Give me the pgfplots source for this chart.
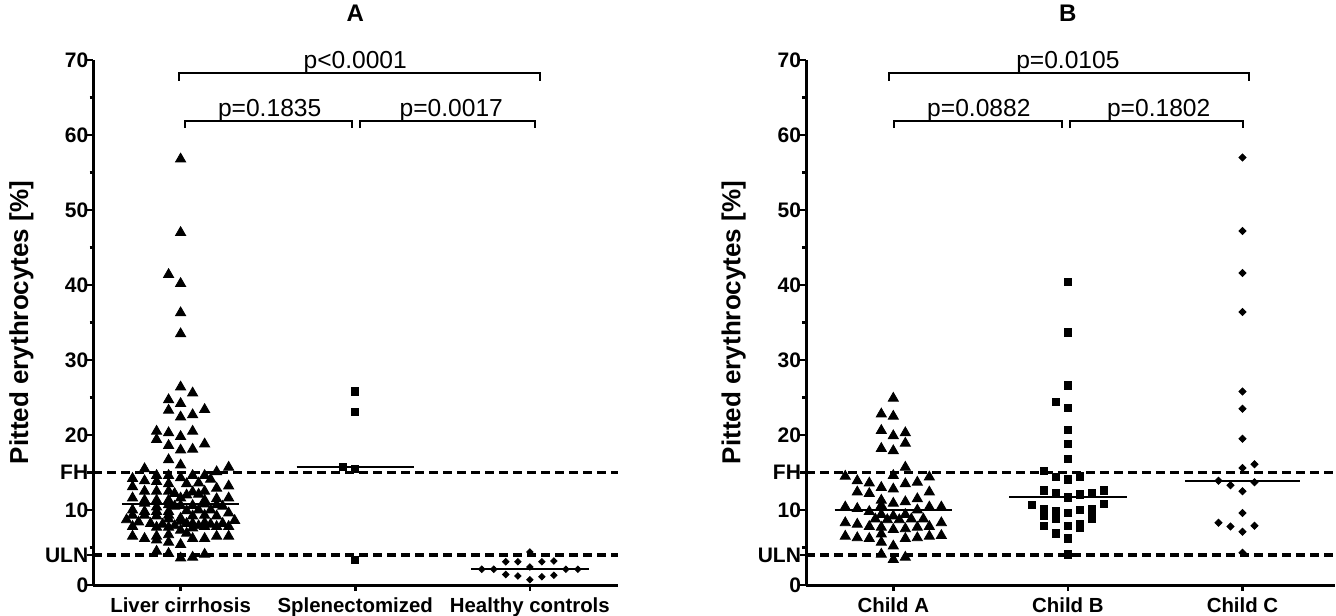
\documentclass[border=0pt]{standalone}
\usepackage{fontspec}
\setmainfont{Liberation Sans}
\usepackage{pgfplots}
\usepackage{pgfplotstable}
\pgfplotsset{compat=1.18}

% g = group position, k = horizontal offset step, v = value [%]
\pgfplotstableread{
g k v
1 0 56.8
1 0 47.0
1 -2 41.4
1 0 40.2
1 0 36.3
1 0 33.5
1 0 26.4
1 2 25.6
1 -2 24.7
1 0 24.2
1 -2 23.3
1 4 23.4
1 2 22.7
1 0 22.4
1 -4 20.5
1 -2 20.3
1 2 20.5
1 0 19.8
1 -4 19.4
1 4 18.8
1 -2 18.6
1 2 18.1
1 0 18.0
1 -2 16.7
1 0 16.0
1 -6 15.5
1 8 15.7
1 6 15.1
1 -4 14.6
1 -2 14.6
1 2 14.6
1 4 14.6
1 0 14.3
1 -8 14.2
1 -6 13.9
1 -4 13.8
1 5 14.1
1 -2 13.5
1 1 13.5
1 3 13.6
1 -8 13.1
1 -6 12.5
1 -4 12.5
1 -2 12.5
1 6 12.9
1 8 13.2
1 -1 12.2
1 1 12.0
1 2 12.4
1 3 12.1
1 4 12.5
1 -8 11.6
1 -6 11.3
1 -4 11.3
1 -2 11.3
1 0 11.6
1 4 11.3
1 6 11.5
1 8 11.6
1 -6 10.9
1 -4 10.4
1 -2 10.7
1 -1 10.5
1 0 10.6
1 2 10.6
1 4 10.8
1 6 10.7
1 7 10.5
1 -8 10.0
1 -6 9.8
1 -4 9.8
1 -2 9.8
1 1 9.9
1 3 10.0
1 5 10.0
1 8 9.6
1 -8 9.3
1 -6 9.3
1 -4 9.2
1 -2 9.3
1 0 8.9
1 2 9.2
1 4 9.3
1 6 9.2
1 -9 8.7
1 -7 8.4
1 -5 8.2
1 -3 8.1
1 -2 8.8
1 -1 7.9
1 0 8.5
1 1 8.2
1 2 8.2
1 3 7.9
1 4 8.3
1 5 8.1
1 7 8.2
1 9 8.6
1 -8 7.8
1 -4 7.7
1 -2 7.7
1 0 7.3
1 2 7.6
1 4 7.8
1 6 7.8
1 8 7.8
1 -8 6.5
1 -6 6.2
1 -4 6.5
1 -2 6.7
1 1 6.9
1 2 6.2
1 4 6.2
1 6 6.5
1 8 6.5
1 -4 6.0
1 -2 5.7
1 0 5.4
1 -4 4.5
1 -2 4.2
1 0 3.6
1 2 3.7
1 4 4.1
}\lcdata

\pgfplotstableread{
g k v
2 0 25.8
2 0 23.1
2 -2 15.75
2 0 15.5
2 0 3.4
}\spldata

\pgfplotstableread{
g k v
3 0 4.4
3 -4 3.1
3 -2 3.1
3 2 3.1
3 4 3.2
3 -8 2.1
3 -6 2.1
3 0 2.4
3 6 2.1
3 8 2.1
3 -4 1.4
3 -2 1.2
3 2 1.1
3 4 1.3
3 0 0.7
}\hcdata

\pgfplotstableread{
g k v
1 0 24.9
1 -2 22.8
1 0 22.5
1 -2 20.6
1 2 20.3
1 0 19.9
1 2 18.9
1 -2 18.2
1 0 17.9
1 2 15.7
1 -8 14.5
1 0 14.6
1 6 14.4
1 -6 13.9
1 -4 13.6
1 4 13.7
1 2 13.5
1 -2 13.0
1 0 12.8
1 -6 12.4
1 -4 12.2
1 6 12.4
1 4 11.5
1 -2 11.3
1 0 10.9
1 2 11.1
1 -2 10.6
1 -8 10.4
1 -6 10.2
1 -4 9.8
1 4 10.0
1 6 10.4
1 8 10.4
1 -2 9.4
1 0 9.2
1 2 9.4
1 -3 8.8
1 -1 8.7
1 1 8.7
1 3 8.8
1 5 8.8
1 -8 8.3
1 -6 8.1
1 -4 7.8
1 -2 7.7
1 0 7.4
1 2 7.5
1 4 7.7
1 6 7.8
1 8 8.3
1 -8 6.5
1 -6 6.3
1 -4 6.2
1 -2 6.8
1 2 6.2
1 4 6.3
1 6 6.5
1 8 6.6
1 -2 5.7
1 0 5.2
1 -2 4.1
1 0 3.4
1 2 3.7
}\childa

\pgfplotstableread{
g k v
2 0 40.4
2 0 33.7
2 0 26.6
2 -2 24.4
2 0 23.6
2 0 20.7
2 0 18.8
2 0 16.8
2 -4 15.2
2 -2 14.4
2 0 14.1
2 2 14.5
2 -4 12.6
2 -2 12.2
2 0 11.7
2 2 12.1
2 4 12.2
2 6 12.6
2 6 10.8
2 -6 10.7
2 -4 10.1
2 -2 9.9
2 0 9.6
2 2 10.0
2 4 10.1
2 -4 9.2
2 -2 8.8
2 4 8.9
2 -4 7.9
2 0 7.9
2 2 8.1
2 2 7.7
2 -2 6.9
2 0 6.2
2 0 4.1
}\childb

\pgfplotstableread{
g k v
3 0 57.0
3 0 47.2
3 0 41.6
3 0 36.4
3 0 25.8
3 0 23.5
3 0 19.5
3 0 15.6
3 2 16.1
3 -4 13.9
3 2 13.7
3 -2 13.3
3 0 12.5
3 0 9.6
3 -4 8.3
3 -2 7.8
3 2 7.9
3 0 7.1
3 0 4.3
}\childc

\pgfplotsset{
  prism/.style={
    scale only axis,
    height=262.5pt,
    xmin=0.5, ymin=0, ymax=70,
    axis x line*=bottom, axis y line*=left,
    axis line style={line width=1.5pt},
    xtick={1,2,3},
    ytick={0,10,...,70},
    minor ytick={5,25,35,45,55,65},
    extra y ticks={4,15},
    extra y tick labels={ULN,FH},
    tick align=outside,
    major tick length=3pt, minor tick length=1.8pt,
    every tick/.style={black, line width=1.3pt},
    y tick label style={font=\fontsize{10.5}{12}\selectfont\bfseries, xshift=4pt},
    x tick label style={font=\fontsize{10.2}{12}\selectfont\bfseries},
    /pgf/number format/assume math mode=true,
    ylabel={Pitted erythrocytes [\%]},
    ylabel style={font=\fontsize{13}{15}\selectfont\bfseries, at={(axis description cs:-0.137,0.5)}, anchor=center},
    clip=false,
  },
  refline/.style={black, line width=1.6pt, dash pattern=on 4.5pt off 2.5pt, forget plot},
  median/.style={black, line width=1pt},
  bracket/.style={black, line width=1pt},
}
\tikzset{
  pval/.style={anchor=base, font=\fontsize{12.3}{14}\selectfont},
  paneltitle/.style={font=\fontsize{12}{14}\selectfont\bfseries},
}

\begin{document}
\begin{tikzpicture}
\useasboundingbox (0,0) rectangle (668pt,307.5pt);

% panel A
\begin{axis}[prism, at={(46.65pt,15pt)}, anchor=south west,
    width=262.35pt, xmax=3.505,
    xticklabels={Liver cirrhosis,Splenectomized,Healthy controls}]
\addplot[refline] coordinates {(0.5,15) (3.505,15)};
\addplot[refline] coordinates {(0.5,4) (3.505,4)};
\addplot[only marks, mark=triangle*, mark size=2.9pt, black]
  table[x expr=\thisrow{g}+0.0344*\thisrow{k}, y=v] {\lcdata};
\addplot[only marks, mark=square*, mark size=1.8pt, black]
  table[x expr=\thisrow{g}+0.0344*\thisrow{k}, y=v] {\spldata};
\addplot[only marks, mark=square*, mark size=1.15pt, black, mark options={rotate=45}]
  table[x expr=\thisrow{g}+0.0344*\thisrow{k}, y=v] {\hcdata};
\addplot[median] coordinates {(0.664,10.8) (1.336,10.8)};
\addplot[median] coordinates {(1.664,15.75) (2.336,15.75)};
\addplot[median] coordinates {(2.664,2.1) (3.336,2.1)};
\addplot[bracket] coordinates {(0.99,67.2) (0.99,68.2) (3.06,68.2) (3.06,67.2)};
\addplot[bracket] coordinates {(1.023,60.9) (1.023,61.9) (1.98,61.9) (1.98,60.9)};
\addplot[bracket] coordinates {(2.03,60.9) (2.03,61.9) (3.03,61.9) (3.03,60.9)};
\node[pval] at (axis cs:2.0,68.8) {p<0.0001};
\node[pval] at (axis cs:1.51,62.5) {p=0.1835};
\node[pval] at (axis cs:2.55,62.5) {p=0.0017};
\node[paneltitle] at (axis cs:2.0,76.2) {A};
\end{axis}

% panel B
\begin{axis}[prism, at={(403pt,15pt)}, anchor=south west,
    width=264.5pt, xmax=3.53,
    xticklabels={Child A,Child B,Child C}]
\addplot[refline] coordinates {(0.5,15) (3.53,15)};
\addplot[refline] coordinates {(0.5,4) (3.53,4)};
\addplot[only marks, mark=triangle*, mark size=2.9pt, black]
  table[x expr=\thisrow{g}+0.0344*\thisrow{k}, y=v] {\childa};
\addplot[only marks, mark=square*, mark size=1.9pt, black]
  table[x expr=\thisrow{g}+0.0344*\thisrow{k}, y=v] {\childb};
\addplot[only marks, mark=square*, mark size=1.25pt, black, mark options={rotate=45}]
  table[x expr=\thisrow{g}+0.0344*\thisrow{k}, y=v] {\childc};
\addplot[median] coordinates {(0.664,10.0) (1.336,10.0)};
\addplot[median] coordinates {(1.664,11.7) (2.336,11.7)};
\addplot[median] coordinates {(2.67,13.9) (3.33,13.9)};
\addplot[bracket] coordinates {(0.974,67.2) (0.974,68.2) (3.035,68.2) (3.035,67.2)};
\addplot[bracket] coordinates {(1.005,60.9) (1.005,61.9) (1.965,61.9) (1.965,60.9)};
\addplot[bracket] coordinates {(2.01,60.9) (2.01,61.9) (3.005,61.9) (3.005,60.9)};
\node[pval] at (axis cs:2.0,68.8) {p=0.0105};
\node[pval] at (axis cs:1.49,62.5) {p=0.0882};
\node[pval] at (axis cs:2.52,62.5) {p=0.1802};
\node[paneltitle] at (axis cs:2.0,76.2) {B};
\end{axis}
\end{tikzpicture}
\end{document}
